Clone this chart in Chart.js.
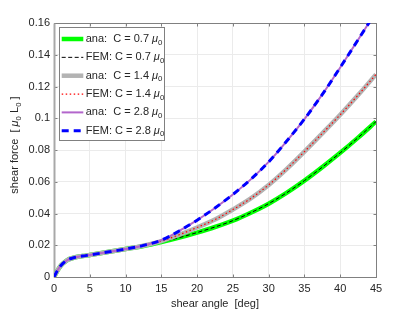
<!DOCTYPE html>
<html>
<head>
<meta charset="utf-8">
<script src="https://cdn.jsdelivr.net/npm/chart.js@4.4.1/dist/chart.umd.min.js"></script>
<style>
  html, body { margin: 0; padding: 0; background: #fff; }
  canvas { display: block; }
</style>
</head>
<body>
<canvas id="chart" width="415" height="311"></canvas>
<script>
// shear angle [deg]
const angles = [0, 0.5, 1, 1.5, 2, 2.5, 3, 4, 5, 7.5, 10, 12.5, 15, 17.5, 20, 22.5, 25, 27.5, 30, 32.5, 35, 37.5, 40, 42.5, 45];

// shear force [mu0 L0]
const anaC07 = [0, 0.0042, 0.0074, 0.0095, 0.011, 0.0118, 0.0124, 0.0132, 0.0139, 0.0157, 0.0176, 0.0195, 0.0220, 0.0248, 0.0280, 0.0315, 0.0355, 0.0405, 0.0462, 0.0530, 0.0607, 0.0692, 0.0782, 0.0878, 0.0979];
const anaC14 = [0, 0.0042, 0.0074, 0.0095, 0.011, 0.0118, 0.0124, 0.0132, 0.0139, 0.0157, 0.0176, 0.0197, 0.0226, 0.0266, 0.0312, 0.0362, 0.0425, 0.0495, 0.0580, 0.0680, 0.0790, 0.0905, 0.1022, 0.1146, 0.1276];
const anaC28 = [0, 0.0042, 0.0074, 0.0095, 0.011, 0.0118, 0.0124, 0.0132, 0.0139, 0.0157, 0.0176, 0.0199, 0.0232, 0.0290, 0.0358, 0.0435, 0.0520, 0.0615, 0.0725, 0.0855, 0.0995, 0.1150, 0.1320, 0.1495, 0.1670];
// FEM results lie on top of the analytic curves
const femC07 = anaC07.slice();
const femC14 = anaC14.slice();
const femC28 = anaC28.slice();

const xTicks = [0, 5, 10, 15, 20, 25, 30, 35, 40, 45];
const yTicks = [0, 0.02, 0.04, 0.06, 0.08, 0.1, 0.12, 0.14, 0.16];
const legendLabels = ["ana:  C = 0.7", "FEM: C = 0.7", "ana:  C = 1.4", "FEM: C = 1.4", "ana:  C = 2.8", "FEM: C = 2.8"];

const FONT = "'Liberation Sans', Arial, sans-serif";
const TEXT = "#262626";

const pts = (vals) => angles.map((a, i) => ({ x: a, y: vals[i] }));

const line = (label, vals, color, width, dash, order) => ({
  label: label,
  data: pts(vals),
  borderColor: color,
  borderWidth: width,
  borderDash: dash,
  pointRadius: 0,
  fill: false,
  cubicInterpolationMode: "monotone",
  clip: 0,
  order: order,
});

const datasets = [
  line(legendLabels[0], anaC07, "#00ff00", 4.5, [], 5),
  line(legendLabels[1], femC07, "#000000", 1, [4, 2.5], 4),
  line(legendLabels[2], anaC14, "#b3b3b3", 4.5, [], 3),
  line(legendLabels[3], femC14, "#ff0000", 1.2, [1.5, 2.5], 2),
  line(legendLabels[4], anaC28, "#b366cc", 2, [], 1),
  line(legendLabels[5], femC28, "#0000ff", 3, [7, 5], 0),
];

// text with italic mu and subscript zero
const drawRich = (ctx, parts, x, y, size, draw) => {
  let cx = x;
  for (let p of parts) {
    const s = p.sub ? size * 0.72 : size;
    ctx.font = (p.it ? "italic " : "") + s + "px " + FONT;
    if (draw) ctx.fillText(p.t, cx, p.sub ? y + size * 0.32 : y);
    cx += ctx.measureText(p.t).width;
  }
  return cx - x;
};

const frame = {
  id: "frame",
  beforeDatasetsDraw(chart) {
    const { ctx, chartArea: a, scales } = chart;
    const L = Math.round(a.left) + 0.5, R = Math.round(a.right) + 0.5;
    const T = Math.round(a.top) + 0.5, B = Math.round(a.bottom) + 0.5;
    ctx.save();
    ctx.strokeStyle = "#808080";
    ctx.lineWidth = 1;
    ctx.strokeRect(L, T, R - L, B - T);
    ctx.beginPath();
    for (let v of xTicks) {
      const px = Math.round(scales.x.getPixelForValue(v)) + 0.5;
      ctx.moveTo(px, B); ctx.lineTo(px, B - 3);
      ctx.moveTo(px, T); ctx.lineTo(px, T + 3);
    }
    for (let v of yTicks) {
      const py = Math.round(scales.y.getPixelForValue(v)) + 0.5;
      ctx.moveTo(L, py); ctx.lineTo(L + 3, py);
      ctx.moveTo(R, py); ctx.lineTo(R - 3, py);
    }
    ctx.stroke();
    ctx.strokeStyle = "#a8a8a8";
    ctx.lineWidth = 2;
    ctx.beginPath();
    ctx.moveTo(L, T); ctx.lineTo(L, B);
    ctx.stroke();
    ctx.restore();
  },
  afterDraw(chart) {
    const { ctx, chartArea: a } = chart;
    ctx.save();
    ctx.fillStyle = TEXT;
    ctx.textBaseline = "middle";

    // x axis title
    ctx.font = "11px " + FONT;
    ctx.textAlign = "center";
    ctx.fillText("shear angle  [deg]", (a.left + a.right) / 2, 304);

    // y axis title
    ctx.textAlign = "left";
    const yParts = [
      { t: "shear force  [ " }, { t: "μ", it: true }, { t: "0", sub: true },
      { t: " L" }, { t: "0", sub: true }, { t: " ]" },
    ];
    const w = drawRich(ctx, yParts, 0, 0, 11, false);
    ctx.translate(15, 145);
    ctx.rotate(-Math.PI / 2);
    drawRich(ctx, yParts, -w / 2, 0, 11, true);
    ctx.setTransform(1, 0, 0, 1, 0, 0);

    // legend
    const bx = 59.5, by = 27.5, bw = 105, bh = 113;
    ctx.fillStyle = "#fff";
    ctx.fillRect(bx, by, bw, bh);
    ctx.strokeStyle = "#808080";
    ctx.lineWidth = 1;
    ctx.strokeRect(bx, by, bw, bh);
    chart.data.datasets.forEach((ds, i) => {
      const ry = 39 + i * 18.35;
      ctx.beginPath();
      ctx.strokeStyle = ds.borderColor;
      ctx.lineWidth = ds.borderWidth;
      ctx.setLineDash(ds.borderDash);
      ctx.moveTo(61.7, ry);
      ctx.lineTo(83.3, ry);
      ctx.stroke();
      ctx.setLineDash([]);
      ctx.fillStyle = TEXT;
      drawRich(ctx, [{ t: legendLabels[i] + " " }, { t: "μ", it: true }, { t: "0", sub: true }], 85.7, ry, 11, true);
    });
    ctx.restore();
  },
};

new Chart(document.getElementById("chart"), {
  type: "line",
  data: { datasets: datasets },
  options: {
    responsive: false,
    animation: false,
    devicePixelRatio: 1,
    layout: { padding: { left: 0, top: 23, right: 39, bottom: 0 } },
    plugins: { legend: { display: false }, tooltip: { enabled: false } },
    scales: {
      x: {
        type: "linear",
        min: 0,
        max: 45,
        afterBuildTicks: (scale) => { scale.ticks = xTicks.map((v) => ({ value: v })); },
        afterFit: (scale) => { scale.height = 34; },
        grid: { color: "#ebebeb", drawTicks: false },
        border: { display: false },
        ticks: { padding: 5, color: TEXT, font: { family: FONT, size: 11 }, maxRotation: 0, callback: (v) => String(v) },
      },
      y: {
        type: "linear",
        min: 0,
        max: 0.16,
        afterBuildTicks: (scale) => { scale.ticks = yTicks.map((v) => ({ value: v })); },
        afterFit: (scale) => { scale.width = 54; },
        grid: { color: "#ebebeb", drawTicks: false },
        border: { display: false },
        ticks: { padding: 4, color: TEXT, font: { family: FONT, size: 11 }, callback: (v) => String(parseFloat(v.toFixed(2))) },
      },
    },
  },
  plugins: [frame],
});
</script>
</body>
</html>
